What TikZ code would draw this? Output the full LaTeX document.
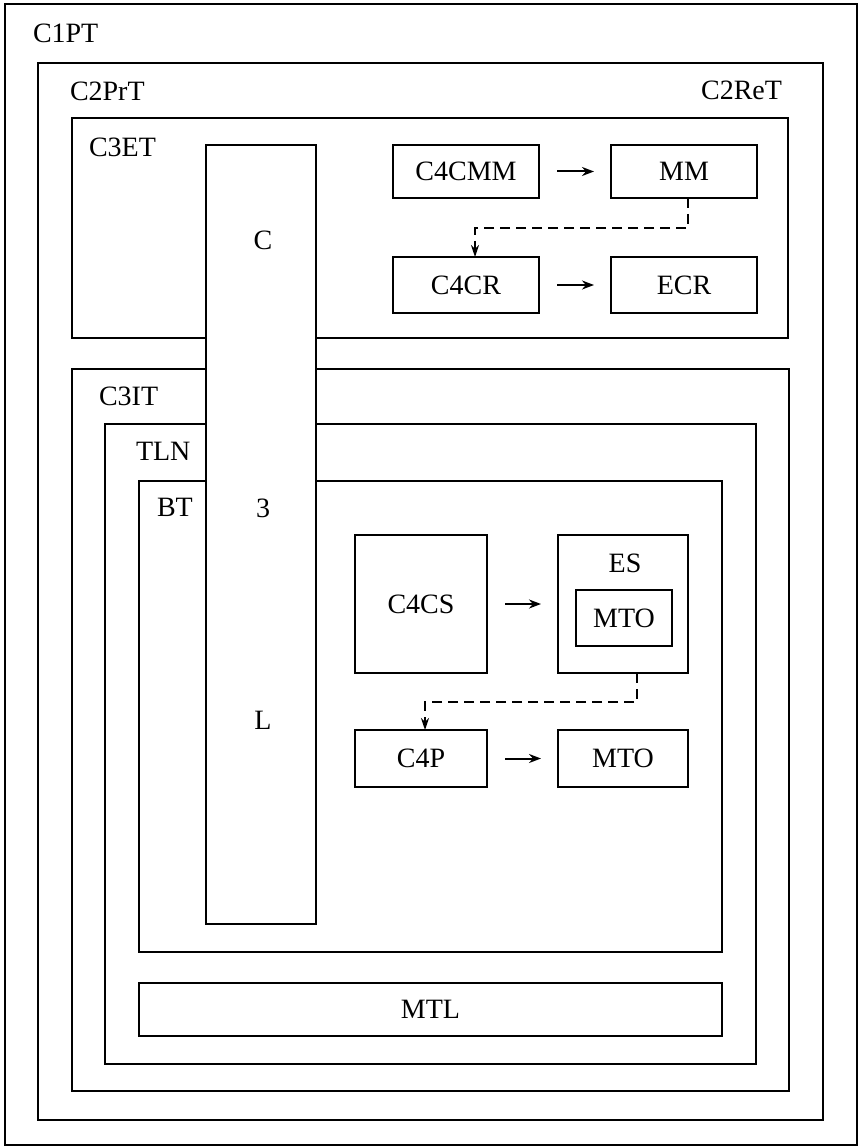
\documentclass[tikz,border=0pt]{standalone}
\usepackage{fontspec}
\setmainfont{Liberation Serif}
\usetikzlibrary{arrows.meta}
\begin{document}
\begin{tikzpicture}[x=1pt,y=-1pt,
  font=\fontsize{28}{30}\selectfont,
  box/.style={draw, line width=2.5pt, inner sep=0pt, outer sep=0pt},
  lbl/.style={inner sep=0pt, outer sep=0pt},
  flow/.style={line width=2pt, -{Stealth[length=12pt,width=9pt]}, shorten <=18pt, shorten >=17pt},
  dconn/.style={line width=2pt, dash pattern=on 10pt off 6pt, -{Stealth[length=12pt,width=8pt]}}]
\useasboundingbox (0,0) rectangle (862,1147);
% containers
\node[box, minimum width=852pt, minimum height=1141pt] (c1) at (431,574.5) {};
\node[box, minimum width=785pt, minimum height=1057pt] (c2) at (430.5,591.5) {};
\node[box, minimum width=716pt, minimum height=220pt] (c3et) at (430,228) {};
\node[box, minimum width=717pt, minimum height=722pt] (c3it) at (430.5,730) {};
\node[box, minimum width=651pt, minimum height=640pt] (tln) at (430.5,744) {};
\node[box, minimum width=583pt, minimum height=471pt] (bt) at (430.5,716.5) {};
\node[box, minimum width=583pt, minimum height=53pt] (mtl) at (430.5,1009.5) {MTL};
% container labels
\node[lbl, anchor=west] (l1) at (33,33) {C1PT};
\node[lbl, anchor=west] (l2) at (70,91) {C2PrT};
\node[lbl, anchor=east] (l2r) at (782,90) {C2ReT};
\node[lbl, anchor=west] (l3) at (89,147) {C3ET};
\node[lbl, anchor=west] (l4) at (99,396) {C3IT};
\node[lbl, anchor=west] (l5) at (136,451) {TLN};
\node[lbl, anchor=west] (l6) at (157,507) {BT};
% tall C3L box
\node[box, fill=white, minimum width=110pt, minimum height=779pt] (c3l) at (261,534.5) {};
\node[lbl] (tc) at (263,240) {C};
\node[lbl] (t3) at (263,508) {3};
\node[lbl] (tl) at (263,720) {L};
% upper boxes
\node[box, minimum width=146pt, minimum height=53pt] (c4cmm) at (466,171.5) {C4CMM};
\node[box, minimum width=146pt, minimum height=53pt] (mm) at (684,171.5) {MM};
\node[box, minimum width=146pt, minimum height=56pt] (c4cr) at (466,285) {C4CR};
\node[box, minimum width=146pt, minimum height=56pt] (ecr) at (684,285) {ECR};
% lower boxes
\node[box, minimum width=132pt, minimum height=138pt] (c4cs) at (421,604) {C4CS};
\node[box, minimum width=130pt, minimum height=138pt] (es) at (623,604) {};
\node[lbl] (esl) at (625,563) {ES};
\node[box, minimum width=96pt, minimum height=56pt] (mto1) at (624,618) {MTO};
\node[box, minimum width=132pt, minimum height=57pt] (c4p) at (421,758.5) {C4P};
\node[box, minimum width=130pt, minimum height=57pt] (mto2) at (623,758.5) {MTO};
% connectors
\draw[flow] (c4cmm) -- (mm);
\draw[flow] (c4cr) -- (ecr);
\draw[flow] (c4cs) -- (es);
\draw[flow] (c4p) -- (mto2);
\draw[dconn] ([xshift=4pt]mm.south) -- ++(0,30) -| ([xshift=9pt]c4cr.north);
\draw[dconn] ([xshift=14pt]es.south) -- ++(0,29) -| ([xshift=4pt]c4p.north);
\end{tikzpicture}
\end{document}
